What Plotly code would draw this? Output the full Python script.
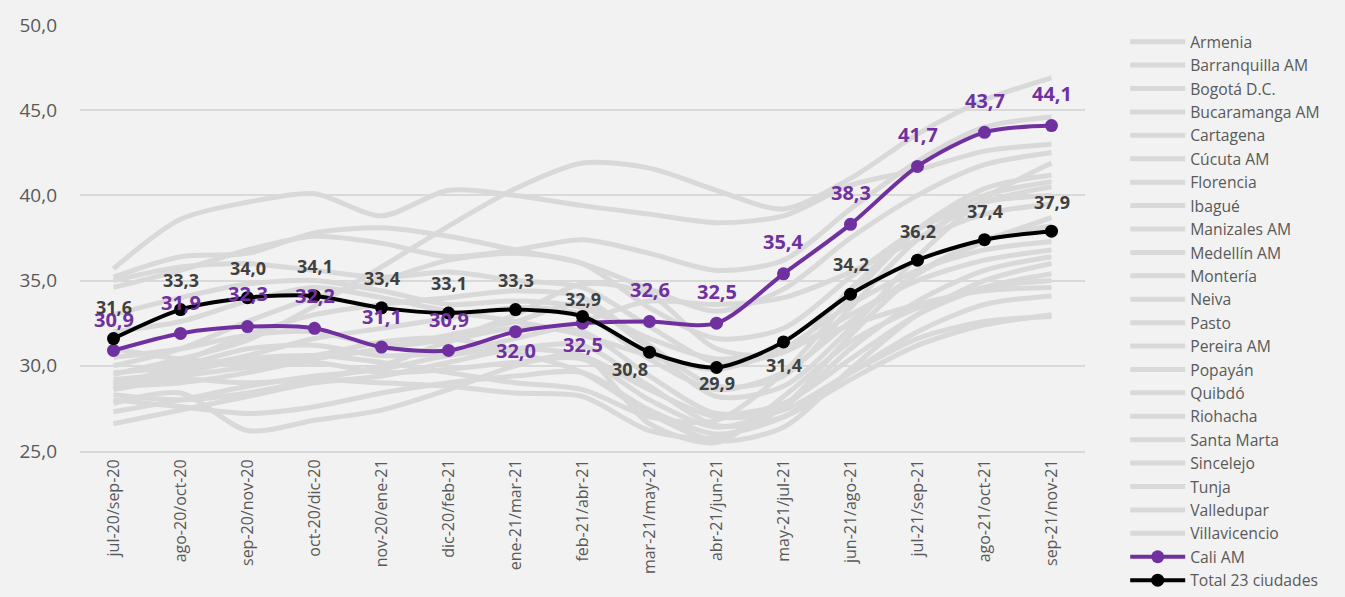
import plotly.graph_objects as go

categories = ["jul-20/sep-20", "ago-20/oct-20", "sep-20/nov-20", "oct-20/dic-20",
              "nov-20/ene-21", "dic-20/feb-21", "ene-21/mar-21", "feb-21/abr-21",
              "mar-21/may-21", "abr-21/jun-21", "may-21/jul-21", "jun-21/ago-21",
              "jul-21/sep-21", "ago-21/oct-21", "sep-21/nov-21"]

armenia = [35.7, 38.6, 39.6, 40.1, 38.8, 40.3, 40.0, 39.4, 38.9, 38.4, 38.8, 40.6, 41.5, 42.6, 43.0]
barranquilla = [29.5, 30.4, 31.5, 33.5, 35.8, 38.2, 40.4, 41.9, 41.6, 40.3, 39.2, 41.0, 43.6, 45.6, 46.9]
bogota = [35.2, 36.4, 36.6, 37.8, 38.1, 37.6, 36.8, 36.0, 34.5, 33.2, 34.5, 37.5, 40.0, 41.8, 42.5]
bucaramanga = [35.0, 35.8, 36.0, 35.6, 35.2, 35.5, 35.0, 34.6, 32.3, 30.2, 30.8, 33.0, 35.0, 36.2, 36.8]
cartagena = [29.0, 29.8, 30.6, 31.6, 32.2, 32.8, 33.4, 33.0, 30.4, 28.6, 29.6, 32.6, 35.4, 37.3, 38.7]
cucuta = [28.8, 29.0, 29.6, 30.4, 31.0, 31.8, 32.6, 33.6, 31.0, 28.2, 28.8, 32.2, 36.4, 39.8, 41.9]
florencia = [26.6, 27.4, 28.2, 29.0, 29.4, 30.2, 31.0, 31.2, 28.8, 26.5, 27.0, 29.2, 31.2, 32.4, 33.0]
ibague = [30.5, 31.0, 31.8, 32.0, 31.2, 31.6, 33.0, 34.8, 34.2, 31.0, 30.8, 34.5, 38.0, 40.0, 40.8]
manizales = [29.0, 29.4, 29.9, 30.2, 29.6, 29.8, 30.2, 30.4, 28.0, 26.4, 27.6, 31.0, 33.8, 35.6, 36.4]
medellin = [28.6, 30.2, 31.8, 33.0, 33.6, 34.0, 34.4, 34.0, 31.2, 28.8, 29.4, 33.4, 37.4, 39.6, 40.5]
monteria = [28.3, 28.0, 28.4, 29.2, 30.0, 31.4, 32.2, 32.0, 29.4, 27.2, 27.8, 30.4, 33.0, 34.6, 35.4]
neiva = [29.6, 30.0, 31.0, 31.2, 30.6, 30.8, 31.6, 32.6, 33.8, 33.6, 34.0, 35.5, 37.4, 38.9, 39.5]
pasto = [27.3, 28.0, 28.8, 29.4, 29.8, 30.6, 31.0, 30.6, 28.6, 27.0, 27.4, 29.6, 31.6, 32.6, 32.9]
pereira = [31.0, 30.4, 30.2, 30.6, 31.4, 31.6, 30.8, 29.6, 27.2, 25.6, 26.4, 29.8, 33.0, 35.0, 36.0]
popayan = [28.0, 27.6, 27.2, 27.6, 28.4, 29.0, 29.4, 29.6, 27.4, 26.0, 27.0, 29.6, 32.0, 33.6, 34.1]
quibdo = [27.8, 28.4, 26.2, 26.8, 27.4, 28.6, 30.0, 30.6, 26.6, 25.5, 28.2, 31.4, 33.4, 34.6, 35.0]
riohacha = [32.0, 32.6, 33.8, 34.6, 34.0, 33.2, 32.6, 31.8, 30.6, 29.8, 31.0, 33.6, 35.6, 36.8, 37.3]
santa_marta = [34.6, 35.6, 36.8, 37.6, 37.2, 36.4, 36.8, 37.4, 36.6, 35.6, 36.2, 39.2, 42.0, 44.0, 44.6]
sincelejo = [29.2, 29.6, 30.4, 30.6, 30.2, 29.6, 29.0, 28.6, 27.0, 26.8, 29.6, 34.0, 38.0, 40.4, 41.2]
tunja = [28.6, 29.2, 29.0, 29.2, 29.0, 28.8, 28.4, 28.2, 26.2, 25.8, 27.6, 31.8, 35.4, 37.4, 38.2]
valledupar = [33.0, 34.0, 34.8, 35.0, 34.4, 33.6, 33.8, 33.4, 31.6, 30.4, 31.0, 32.4, 33.6, 34.4, 34.6]
villavicencio = [30.0, 31.0, 32.6, 34.0, 35.0, 36.2, 36.6, 36.0, 33.4, 31.6, 32.2, 35.2, 38.0, 39.6, 40.0]

cali = [30.9, 31.9, 32.3, 32.2, 31.1, 30.9, 32.0, 32.5, 32.6, 32.5, 35.4, 38.3, 41.7, 43.7, 44.1]
total = [31.6, 33.3, 34.0, 34.1, 33.4, 33.1, 33.3, 32.9, 30.8, 29.9, 31.4, 34.2, 36.2, 37.4, 37.9]

cities = [
    ("Armenia", armenia), ("Barranquilla AM", barranquilla), ("Bogotá D.C.", bogota),
    ("Bucaramanga AM", bucaramanga), ("Cartagena", cartagena), ("Cúcuta AM", cucuta),
    ("Florencia", florencia), ("Ibagué", ibague), ("Manizales AM", manizales),
    ("Medellín AM", medellin), ("Montería", monteria), ("Neiva", neiva), ("Pasto", pasto),
    ("Pereira AM", pereira), ("Popayán", popayan), ("Quibdó", quibdo), ("Riohacha", riohacha),
    ("Santa Marta", santa_marta), ("Sincelejo", sincelejo), ("Tunja", tunja),
    ("Valledupar", valledupar), ("Villavicencio", villavicencio),
]

# label placement style (pixel shifts): positive = above the point
cali_shift_y = [31, 31, 33, 33, 31, 31, -19, -21, 32, 32, 32, 32, 32, 32, 32]
total_shift_y = [32, 30, 30, 30, 30, 30, 30, 17, -17, -15, -23, 30, 29, 29, 29]
total_shift_x = [0, 0, 0, 0, 0, 0, 0, 0, -20, 0, 0, 0, 0, 0, 0]

FONT = "Open Sans"
PURPLE = "#7030a0"
fig = go.Figure()
for name, vals in cities:
    fig.add_trace(go.Scatter(
        x=categories, y=vals, name=name, mode="lines",
        line=dict(color="#d9d9d9", width=5, shape="spline", smoothing=0.8),
        hoverinfo="skip"))

fig.add_trace(go.Scatter(
    x=categories, y=cali, name="Cali AM", mode="lines+markers",
    line=dict(color=PURPLE, width=4, shape="spline", smoothing=0.8),
    marker=dict(color=PURPLE, size=13)))

fig.add_trace(go.Scatter(
    x=categories, y=total, name="Total 23 ciudades", mode="lines+markers",
    line=dict(color="#000000", width=4, shape="spline", smoothing=0.8),
    marker=dict(color="#000000", size=13)))

for i, c in enumerate(categories):
    fig.add_annotation(x=c, y=cali[i], text=f"{cali[i]:.1f}".replace(".", ","),
                       showarrow=False, yshift=cali_shift_y[i],
                       font=dict(family=FONT, size=20, color=PURPLE, weight="bold"))
    fig.add_annotation(x=c, y=total[i], text=f"{total[i]:.1f}".replace(".", ","),
                       showarrow=False, yshift=total_shift_y[i], xshift=total_shift_x[i],
                       font=dict(family=FONT, size=18, color="#404040", weight="bold"))

fig.update_layout(
    width=1345, height=597,
    margin=dict(l=80, r=260, t=18, b=146),
    paper_bgcolor="#f2f2f2", plot_bgcolor="#f2f2f2",
    separators=",.",
    font=dict(family=FONT, color="#595959"),
    showlegend=True,
    legend=dict(x=1.04, y=0.958, xanchor="left", yanchor="top",
                font=dict(family=FONT, size=15.7, color="#595959"),
                bgcolor="rgba(0,0,0,0)", tracegroupgap=0, itemwidth=55,
                maxheight=620),
)
fig.update_xaxes(
    type="category", tickangle=-90, tickfont=dict(size=16, color="#595959"),
    showgrid=False, showline=True, linecolor="#d9d9d9", linewidth=2,
    ticks="", range=[-0.5, 14.5])
fig.update_yaxes(
    range=[25, 50], dtick=5, tickformat=".1f",
    tickfont=dict(size=19, color="#595959"), ticklabelstandoff=22,
    showgrid=True, gridcolor="#d9d9d9", gridwidth=2,
    zeroline=False, showline=False, ticks="", ticklen=0)

fig.write_html("out.html", config={"displayModeBar": False},
               post_script="document.body.style.margin='0';"
                           "document.body.style.background='#f2f2f2';")
